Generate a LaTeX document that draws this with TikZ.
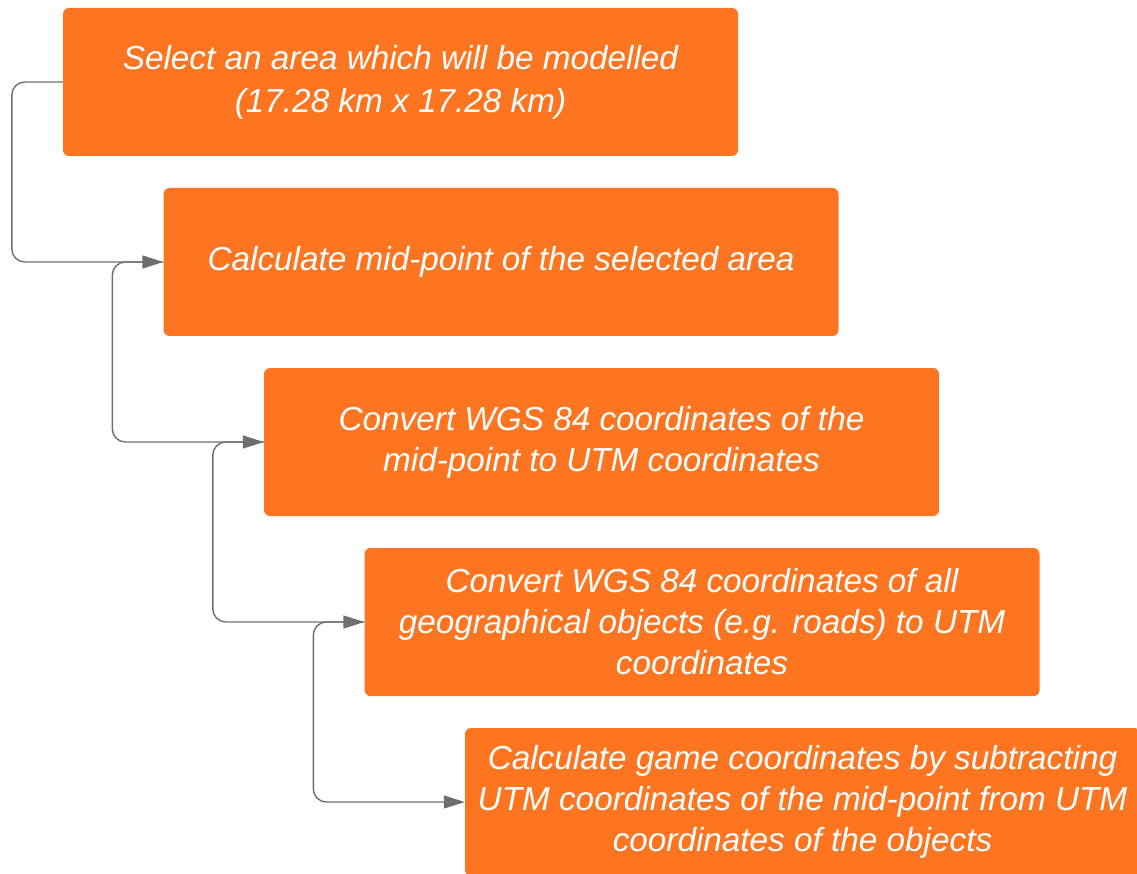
\documentclass[tikz,border=0pt]{standalone}
\usepackage{fontspec}
\setmainfont{Liberation Sans}
\usetikzlibrary{arrows.meta}
\definecolor{boxorange}{RGB}{253,117,32}
\definecolor{linegray}{RGB}{110,110,110}
\tikzset{
  stepbox/.style={fill=boxorange, rounded corners=6pt, minimum width=675pt,
    minimum height=148pt, inner sep=4pt, text=white, align=center,
    font=\fontsize{33.3}{41}\selectfont\itshape},
  conn/.style={draw=linegray, line width=1.4pt, rounded corners=13pt,
    -{Triangle[length=21pt,width=13pt]}}
}
\begin{document}
\begin{tikzpicture}[x=1pt,y=-1pt]
  \useasboundingbox (0,0) rectangle (1137,874);
  \clip (0,0) rectangle (1137,874);
  \node[stepbox] (b1) at (400.5,82) {Select an area which will be modelled\\[2pt](17.28 km x 17.28 km)};
  \node[stepbox] (b2) at (501,262) {Calculate mid-point of the selected area};
  \node[stepbox] (b3) at (601.5,442) {Convert WGS 84 coordinates of the\\mid-point to UTM coordinates};
  \node[stepbox] (b4) at (702,622) {Convert WGS 84 coordinates of all\\geographical objects (e.g. roads) to UTM\\coordinates};
  \node[stepbox] (b5) at (802.5,802) {Calculate game coordinates by subtracting\\UTM coordinates of the mid-point from UTM\\coordinates of the objects};
  \draw[conn] (b1.west) -- ++(-51,0) |- (b2.west);
  \draw[conn] (b2.west) -- ++(-51,0) |- (b3.west);
  \draw[conn] (b3.west) -- ++(-51,0) |- (b4.west);
  \draw[conn] (b4.west) -- ++(-51,0) |- (b5.west);
\end{tikzpicture}
\end{document}
